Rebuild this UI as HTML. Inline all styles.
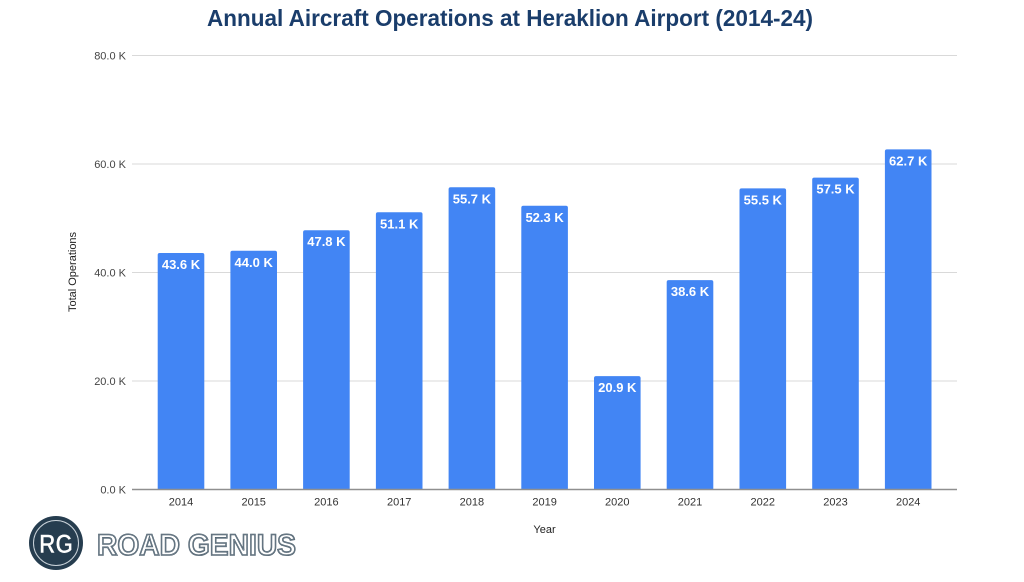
<!DOCTYPE html>
<html>
<head>
<meta charset="utf-8">
<style>
html,body{margin:0;padding:0;background:#fff;}
svg{display:block;}
text{font-family:"Liberation Sans",Arial,sans-serif;}
</style>
</head>
<body>
<svg width="1024" height="582" viewBox="0 0 1024 582" xmlns="http://www.w3.org/2000/svg">
<rect width="1024" height="582" fill="#fff"/>
<text x="510" y="26" text-anchor="middle" font-size="23" font-weight="bold" fill="#1a3d6b" textLength="606" lengthAdjust="spacingAndGlyphs">Annual Aircraft Operations at Heraklion Airport (2014-24)</text>

<!-- gridlines -->
<g stroke="#d9d9d9" stroke-width="1">
<line x1="132" y1="55.5" x2="957" y2="55.5"/>
<line x1="132" y1="164" x2="957" y2="164"/>
<line x1="132" y1="272.5" x2="957" y2="272.5"/>
<line x1="132" y1="381" x2="957" y2="381"/>
</g>
<g font-size="11" fill="#444" text-anchor="end">
<text x="126" y="59.5">80.0 K</text>
<text x="126" y="168">60.0 K</text>
<text x="126" y="276.5">40.0 K</text>
<text x="126" y="385">20.0 K</text>
<text x="126" y="493.5">0.0 K</text>
</g>
<text transform="translate(76,272) rotate(-90)" text-anchor="middle" font-size="11" fill="#222">Total Operations</text>

<!-- bars -->
<g fill="#4285f4">
<path d="M157.7,489.5 V255.0 Q157.7,253.0 159.7,253.0 H202.3 Q204.3,253.0 204.3,255.0 V489.5 Z"/>
<path d="M230.4,489.5 V252.8 Q230.4,250.8 232.4,250.8 H275.0 Q277.0,250.8 277.0,252.8 V489.5 Z"/>
<path d="M303.1,489.5 V232.2 Q303.1,230.2 305.1,230.2 H347.7 Q349.7,230.2 349.7,232.2 V489.5 Z"/>
<path d="M375.9,489.5 V214.3 Q375.9,212.3 377.9,212.3 H420.5 Q422.5,212.3 422.5,214.3 V489.5 Z"/>
<path d="M448.6,489.5 V189.3 Q448.6,187.3 450.6,187.3 H493.2 Q495.2,187.3 495.2,189.3 V489.5 Z"/>
<path d="M521.3,489.5 V207.8 Q521.3,205.8 523.3,205.8 H565.9 Q567.9,205.8 567.9,207.8 V489.5 Z"/>
<path d="M594.0,489.5 V378.1 Q594.0,376.1 596.0,376.1 H638.6 Q640.6,376.1 640.6,378.1 V489.5 Z"/>
<path d="M666.7,489.5 V282.1 Q666.7,280.1 668.7,280.1 H711.3 Q713.3,280.1 713.3,282.1 V489.5 Z"/>
<path d="M739.5,489.5 V190.4 Q739.5,188.4 741.5,188.4 H784.1 Q786.1,188.4 786.1,190.4 V489.5 Z"/>
<path d="M812.2,489.5 V179.6 Q812.2,177.6 814.2,177.6 H856.8 Q858.8,177.6 858.8,179.6 V489.5 Z"/>
<path d="M884.9,489.5 V151.4 Q884.9,149.4 886.9,149.4 H929.5 Q931.5,149.4 931.5,151.4 V489.5 Z"/>
</g>

<g font-size="13" font-weight="bold" fill="#fff" text-anchor="middle">
<text x="181" y="269">43.6 K</text>
<text x="253.7" y="266.8">44.0 K</text>
<text x="326.4" y="246.2">47.8 K</text>
<text x="399.2" y="228.3">51.1 K</text>
<text x="471.9" y="203.3">55.7 K</text>
<text x="544.6" y="221.8">52.3 K</text>
<text x="617.3" y="392.1">20.9 K</text>
<text x="690" y="296.1">38.6 K</text>
<text x="762.8" y="204.4">55.5 K</text>
<text x="835.5" y="193.6">57.5 K</text>
<text x="908.2" y="165.4">62.7 K</text>
</g>

<line x1="132" y1="489.5" x2="957" y2="489.5" stroke="#8f8f8f" stroke-width="1.4"/>

<g font-size="11" fill="#333" text-anchor="middle">
<text x="181" y="505.5">2014</text>
<text x="253.7" y="505.5">2015</text>
<text x="326.4" y="505.5">2016</text>
<text x="399.2" y="505.5">2017</text>
<text x="471.9" y="505.5">2018</text>
<text x="544.6" y="505.5">2019</text>
<text x="617.3" y="505.5">2020</text>
<text x="690" y="505.5">2021</text>
<text x="762.8" y="505.5">2022</text>
<text x="835.5" y="505.5">2023</text>
<text x="908.2" y="505.5">2024</text>
</g>
<text x="544.5" y="533" text-anchor="middle" font-size="11" fill="#222">Year</text>

<!-- logo -->
<circle cx="56" cy="543" r="27" fill="#263d4f"/>
<circle cx="56" cy="543" r="22.5" fill="none" stroke="#c9d2d9" stroke-width="1"/>
<text x="56" y="553" text-anchor="middle" font-size="27" font-weight="bold" fill="#fff" stroke="#263d4f" stroke-width="0.6" textLength="34" lengthAdjust="spacingAndGlyphs">RG</text>
<text x="97" y="555" font-size="30" font-weight="bold" fill="#fff" stroke="#435664" stroke-width="1.6" textLength="199" lengthAdjust="spacingAndGlyphs">ROAD GENIUS</text>
<text x="97" y="555" font-size="30" font-weight="bold" fill="none" stroke="#8795a0" stroke-width="0.5" textLength="199" lengthAdjust="spacingAndGlyphs">ROAD GENIUS</text>
</svg>
</body>
</html>
